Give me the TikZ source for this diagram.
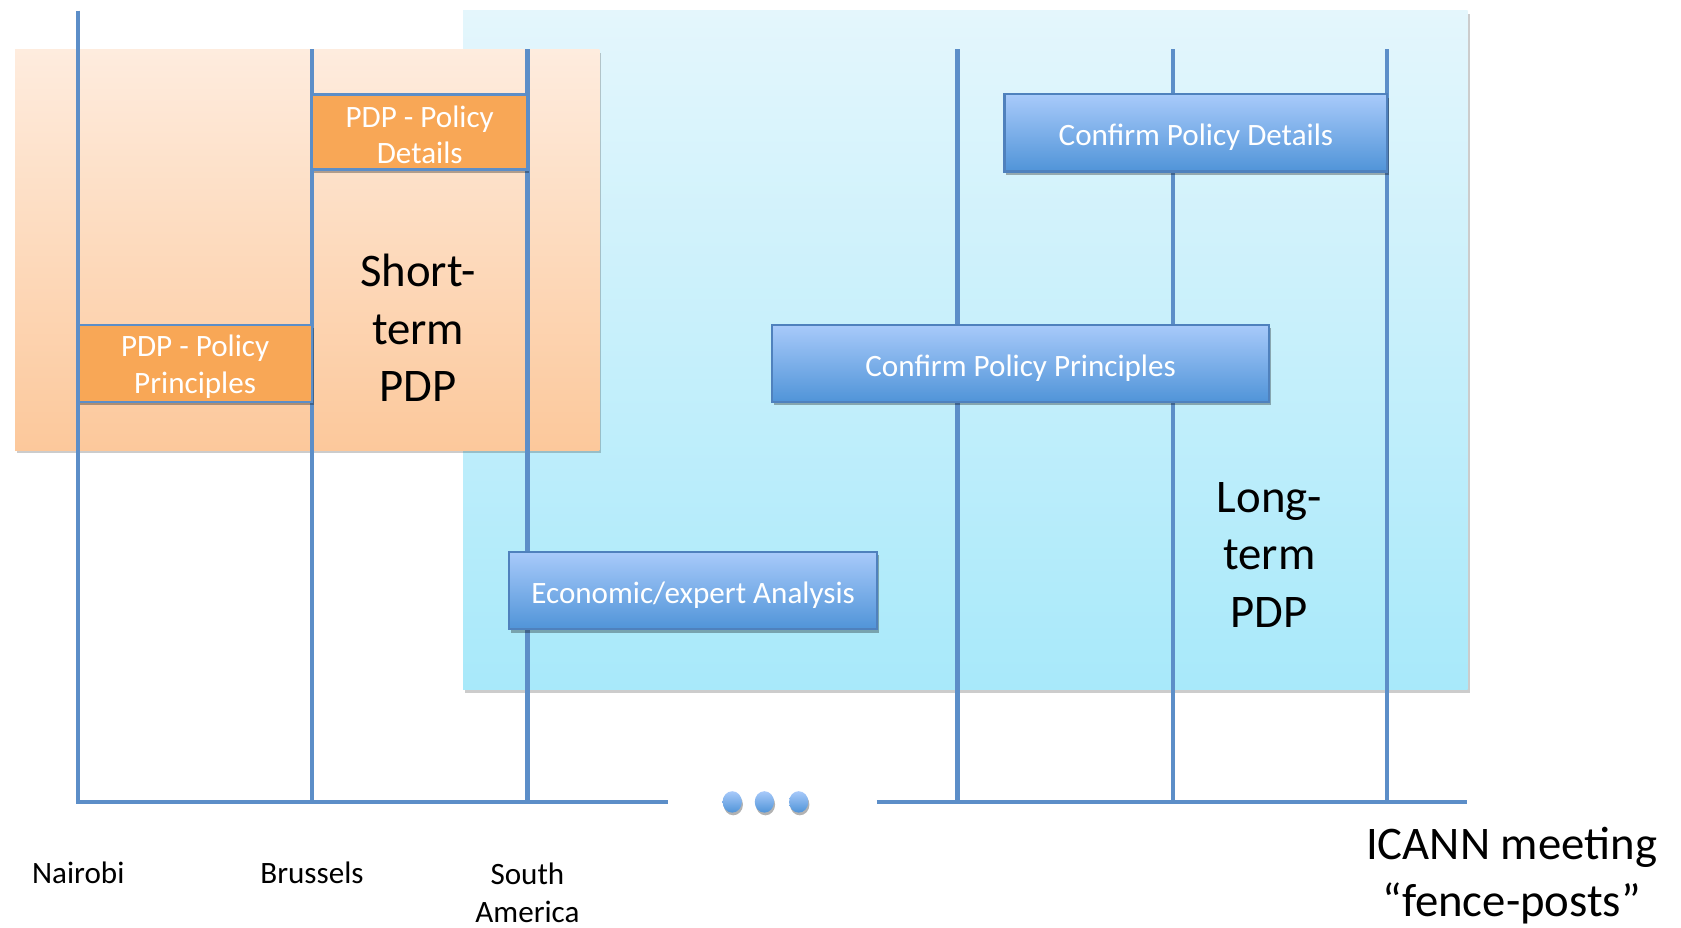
\documentclass[tikz,border=0pt]{standalone}
\usepackage{fontspec}
\setmainfont{Carlito}
\usetikzlibrary{shadows,shapes.geometric}
\definecolor{postblue}{RGB}{92,142,200}
\definecolor{boxorange}{RGB}{248,167,86}
\definecolor{bgotop}{RGB}{254,236,222}
\definecolor{bgobot}{RGB}{252,200,155}
\definecolor{bgbtop}{RGB}{228,246,252}
\definecolor{bgbbot}{RGB}{168,233,250}
\definecolor{bbtop}{RGB}{168,202,250}
\definecolor{bbbot}{RGB}{80,148,216}
\definecolor{bbborder}{RGB}{79,129,189}
\tikzset{
  post/.style={draw=postblue, line width=4pt},
  bgshadow/.style={drop shadow={shadow xshift=2pt, shadow yshift=-3pt, opacity=0.2, fill=black}},
  orangebox/.style={draw=postblue, line width=2.5pt, fill=boxorange, inner sep=0pt,
    drop shadow={shadow xshift=1.5pt, shadow yshift=-3pt, opacity=0.3, fill=black}},
  bluebox/.style={draw=bbborder, line width=2pt, top color=bbtop, bottom color=bbbot, inner sep=0pt,
    drop shadow={shadow xshift=1.5pt, shadow yshift=-3pt, opacity=0.3, fill=black}},
  boxtxt/.style={text=white, font=\fontsize{29}{34}\selectfont, align=center, inner sep=0pt},
  bigtxt/.style={font=\fontsize{43.6}{53.5}\selectfont, align=center, text=black},
  lbl/.style={font=\fontsize{29}{35}\selectfont, align=center, text=black},
  dot/.style={ellipse, draw=none, minimum width=18pt, minimum height=20pt, inner sep=0pt,
    top color=bbtop, bottom color=bbbot,
    drop shadow={shadow xshift=1pt, shadow yshift=-2.5pt, opacity=0.3, fill=black}}
}
\begin{document}
\begin{tikzpicture}[x=1pt,y=-1pt]
\useasboundingbox (0,0) rectangle (1568,865);
% backgrounds
\fill[bgshadow, top color=bgbtop, bottom color=bgbbot] (432,10) rectangle (1369,643);
\fill[bgshadow, top color=bgotop, bottom color=bgobot] (14,46) rectangle (559,420);
% post coordinates
\coordinate (n1) at (73,10);   \coordinate (n2) at (73,750);
\coordinate (b1) at (291,46);  \coordinate (b2) at (291,748);
\coordinate (s1) at (492,46);  \coordinate (s2) at (492,748);
\coordinate (p41) at (893,46); \coordinate (p42) at (893,748);
\coordinate (p51) at (1094,46);\coordinate (p52) at (1094,748);
\coordinate (p61) at (1294,46);\coordinate (p62) at (1294,748);
\coordinate (l1) at (71,748);  \coordinate (l2) at (623,748);
\coordinate (r1) at (818,748); \coordinate (r2) at (1368,748);
% line shadows
\begin{scope}[draw=black, opacity=0.15, line width=4pt, shift={(2,3)}]
\draw (n1) -- (n2); \draw (b1) -- (b2); \draw (s1) -- (s2);
\draw (p41) -- (p42); \draw (p51) -- (p52); \draw (p61) -- (p62);
\draw (l1) -- (l2); \draw (r1) -- (r2);
\end{scope}
\draw[post] (n1) -- (n2);
\draw[post] (b1) -- (b2);
\draw[post] (s1) -- (s2);
\draw[post] (p41) -- (p42);
\draw[post] (p51) -- (p52);
\draw[post] (p61) -- (p62);
\draw[post] (l1) -- (l2);
\draw[post] (r1) -- (r2);
% dots
\node[dot] (d1) at (683,748) {};
\node[dot] (d2) at (713,748) {};
\node[dot] (d3) at (745,748) {};
% boxes
\node[orangebox, minimum width=201pt, minimum height=70pt] (pdpdet) at (391.5,123) {};
\node[boxtxt] (pdpdett) at (391.5,126) {PDP - Policy\\Details};
\node[orangebox, minimum width=218pt, minimum height=72pt] (pdpprin) at (182,339) {};
\node[boxtxt] (pdpprint) at (182,342) {PDP - Policy\\Principles};
\node[bluebox, minimum width=357pt, minimum height=72pt] (cpd) at (1115.5,124) {};
\node[boxtxt] (cpdt) at (1115.5,128) {Confirm Policy Details};
\node[bluebox, minimum width=464pt, minimum height=72pt] (cpp) at (952,339) {};
\node[boxtxt] (cppt) at (952,343) {Confirm Policy Principles};
\node[bluebox, minimum width=343pt, minimum height=72pt] (eea) at (646.5,551) {};
\node[boxtxt] (eeat) at (646.5,555) {Economic/expert Analysis};
% big texts
\node[bigtxt] (stp) at (390,306) {Short-\\term\\PDP};
\node[bigtxt] (ltp) at (1184,517.5) {Long-\\term\\PDP};
% labels
\node[lbl] (nai) at (73,814) {Nairobi};
\node[lbl] (bru) at (291,814) {Brussels};
\node[lbl] (sam) at (492,833) {South\\America};
\node[bigtxt] (icann) at (1410,816.5) {ICANN meeting\\“fence-posts”};
\end{tikzpicture}
\end{document}
